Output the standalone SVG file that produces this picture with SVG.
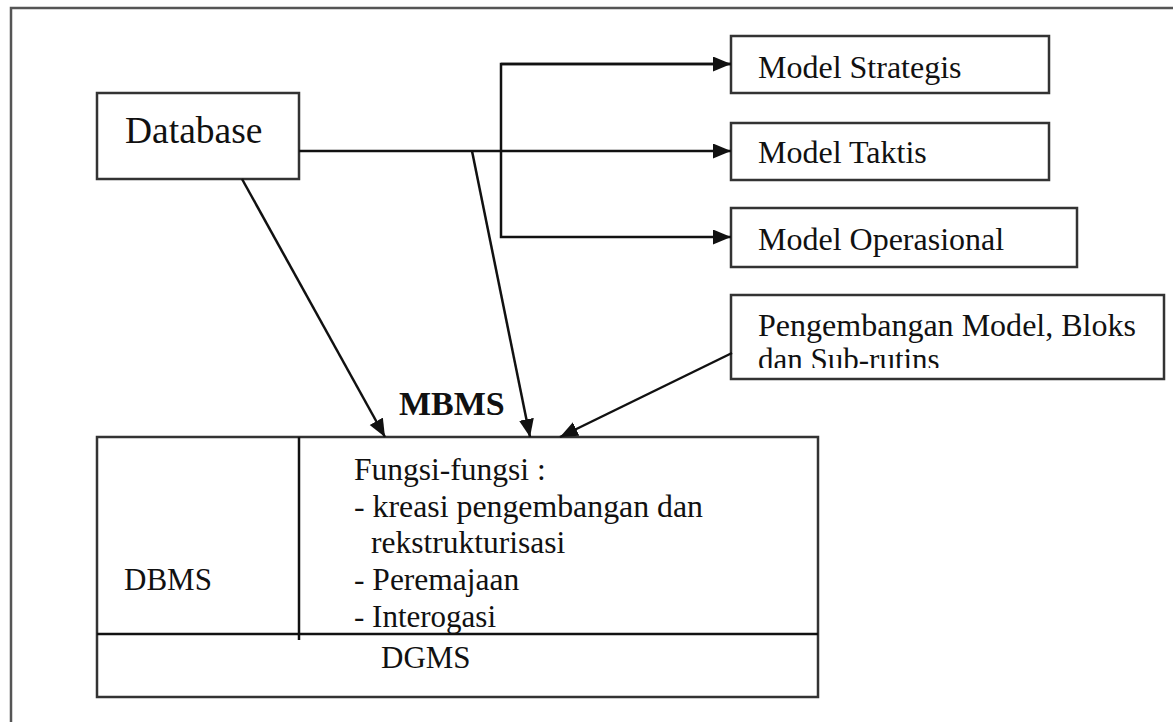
<svg xmlns="http://www.w3.org/2000/svg" width="1173" height="722" viewBox="0 0 1173 722">
<style>
.box{fill:#fff;stroke:#333;stroke-width:2.5}
.ln{fill:none;stroke:#111;stroke-width:2.5}
text{font-family:'Liberation Serif','Times New Roman',serif;fill:#111}
</style>
<defs>
<marker id="ah" markerUnits="userSpaceOnUse" markerWidth="20" markerHeight="16" refX="18" refY="7.5" orient="auto">
<path d="M0,0 L18,7.5 L0,15 z" fill="#111"/>
</marker>
<clipPath id="clipP"><rect x="731" y="295" width="433" height="73"/></clipPath>
</defs>
<rect width="1173" height="722" fill="#fff"/>
<path d="M11,722 L11,8 L1173,8" fill="none" stroke="#555" stroke-width="2.5"/>
<g id="database">
<rect class="box" x="97" y="93" width="202" height="86"/>
<text x="125" y="143" font-size="37.5">Database</text>
</g>
<g id="model-strategis">
<rect class="box" x="731" y="36" width="318" height="57"/>
<text x="758" y="78" font-size="32">Model Strategis</text>
</g>
<g id="model-taktis">
<rect class="box" x="731" y="123" width="318" height="57"/>
<text x="758" y="163" font-size="32">Model Taktis</text>
</g>
<g id="model-operasional">
<rect class="box" x="731" y="208" width="346" height="59"/>
<text x="758" y="250" font-size="32">Model Operasional</text>
</g>
<g id="pengembangan">
<rect class="box" x="731" y="295" width="433" height="84"/>
<g clip-path="url(#clipP)">
<text x="758" y="336" font-size="31" textLength="378" lengthAdjust="spacingAndGlyphs">Pengembangan Model, Bloks</text>
<text x="758" y="370" font-size="31">dan Sub-rutins</text>
</g>
</g>
<g id="mbms">
<text x="399" y="415" font-size="34" font-weight="bold">MBMS</text>
<rect class="box" x="97" y="437" width="721" height="260"/>
<line class="ln" x1="97" y1="634" x2="818" y2="634"/>
<line class="ln" x1="299" y1="437" x2="299" y2="640"/>
<text x="124" y="590" font-size="31">DBMS</text>
<text x="354" y="480" font-size="31.5">Fungsi-fungsi :</text>
<text x="354" y="517" font-size="31" textLength="349" lengthAdjust="spacingAndGlyphs">- kreasi pengembangan dan</text>
<text x="371" y="553" font-size="31.5">rekstrukturisasi</text>
<text x="354" y="590" font-size="31.5">- Peremajaan</text>
<text x="354" y="627" font-size="31">- Interogasi</text>
<text x="381" y="668" font-size="31">DGMS</text>
</g>
<g id="connectors">
<line class="ln" x1="299" y1="151" x2="731" y2="151" marker-end="url(#ah)"/>
<path class="ln" d="M731,64 L501,64 L501,237 L731,237" marker-end="url(#ah)"/>
<line class="ln" x1="501" y1="64" x2="731" y2="64" marker-end="url(#ah)"/>
<line class="ln" x1="242" y1="179" x2="385" y2="437" marker-end="url(#ah)"/>
<line class="ln" x1="472" y1="151" x2="530" y2="437" marker-end="url(#ah)"/>
<line class="ln" x1="732" y1="353" x2="560" y2="437" marker-end="url(#ah)"/>
</g>
</svg>
